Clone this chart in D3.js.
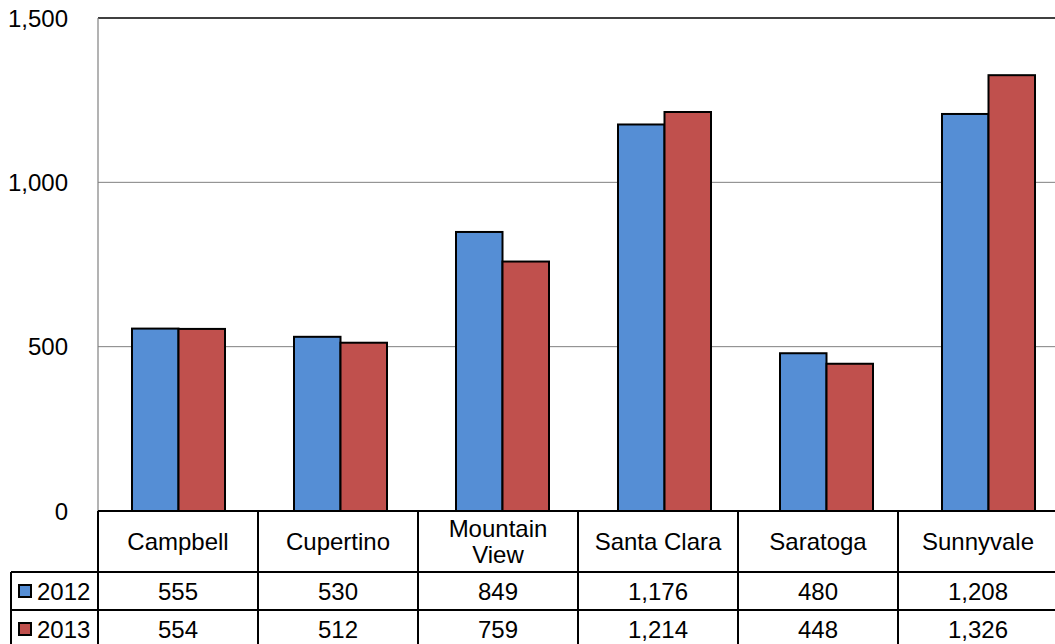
<!DOCTYPE html>
<html><head><meta charset="utf-8">
<script src="https://cdn.jsdelivr.net/npm/d3@7"></script>
<style>body{margin:0;background:#fff;overflow:hidden}svg{display:block}text{font-family:"Liberation Sans",Arial,sans-serif;}</style>
</head><body>
<svg id="c" width="1055" height="644"></svg>
<script>
const categories = ["Campbell","Cupertino","Mountain View","Santa Clara","Saratoga","Sunnyvale"];
const seriesNames = ["2012","2013"];
const values2012 = [555,530,849,1176,480,1208];
const values2013 = [554,512,759,1214,448,1326];
const yTicks = [0,500,1000,1500];
const colors = ["#558ED5","#C0504D"];

(function(){
const svg = d3.select("#c");
const pL = 98, pR = 1058, pT = 18, pB = 511;
const rowH = [511, 572, 610, 648];

// bar groups: step 162, offset 34, group width 93
const xb = d3.scaleBand().domain(categories).range([pL, pL + 971]).paddingInner(69/162).paddingOuter(34/162);
const xCat = d3.scaleBand().domain(categories).range([pL,pR]).padding(0);
const x1 = d3.scaleBand().domain(seriesNames).range([0,xb.bandwidth()]);
const y = d3.scaleLinear().domain([0,1500]).range([pB,pT]);

// gridlines
svg.append("g").selectAll("line").data(yTicks.filter(t=>t>0 && t<1500)).join("line")
  .attr("x1",pL).attr("x2",pR).attr("y1",d=>y(d)).attr("y2",d=>y(d))
  .attr("stroke","#808080").attr("stroke-width",1);
// plot border
svg.append("line").attr("x1",pL).attr("x2",pR).attr("y1",y(1500)).attr("y2",y(1500)).attr("stroke","#000").attr("stroke-width",1.5);
svg.append("line").attr("x1",pL).attr("x2",pL).attr("y1",pT).attr("y2",pB).attr("stroke","#808080").attr("stroke-width",1.2);

// y axis labels
const fmt = d3.format(",");
svg.append("g").selectAll("text").data(yTicks).join("text")
  .attr("x",68).attr("y",d=>y(d)).attr("dy","0.36em").attr("text-anchor","end")
  .attr("font-size",24).attr("fill","#000").text(d=>fmt(d));

// bars
const series = [values2012, values2013];
const g = svg.append("g");
series.forEach((vals,si)=>{
  g.append("g").selectAll("rect").data(categories).join("rect")
    .attr("x",(d)=>xb(d)+x1(seriesNames[si]))
    .attr("width",x1.bandwidth())
    .attr("y",(d,i)=>y(vals[i]))
    .attr("height",(d,i)=>y(0)-y(vals[i]))
    .attr("fill",colors[si]).attr("stroke","#000").attr("stroke-width",2);
});

// table
const t = svg.append("g");
t.append("line").attr("x1",pL).attr("x2",pR).attr("y1",rowH[0]).attr("y2",rowH[0]).attr("stroke","#000").attr("stroke-width",2);
[rowH[1],rowH[2]].forEach(yy=>{
  t.append("line").attr("x1",11).attr("x2",pR).attr("y1",yy).attr("y2",yy).attr("stroke","#000").attr("stroke-width",2);
});
t.append("line").attr("x1",11).attr("x2",11).attr("y1",rowH[1]).attr("y2",rowH[3]).attr("stroke","#000").attr("stroke-width",2);
const bounds = categories.map(c=>xCat(c)).concat([pR]);
t.selectAll("line.v").data(bounds).join("line").attr("class","v")
  .attr("x1",d=>d).attr("x2",d=>d).attr("y1",rowH[0]).attr("y2",rowH[3]).attr("stroke","#000").attr("stroke-width",2);

// category labels
categories.forEach(c=>{
  const cx = xCat(c)+xCat.bandwidth()/2;
  const words = c==="Mountain View" ? ["Mountain","View"] : [c];
  const txt = t.append("text").attr("x",cx).attr("text-anchor","middle").attr("font-size",24).attr("fill","#000");
  if(words.length===1){
    txt.attr("y",(rowH[0]+rowH[1])/2).attr("dy","0.36em").text(c);
  } else {
    words.forEach((w,i)=>txt.append("tspan").attr("x",cx).attr("y",(rowH[0]+rowH[1])/2 + (i===0?-13:13)).attr("dy","0.36em").text(w));
  }
});

// data rows
series.forEach((vals,si)=>{
  const yc = (rowH[si+1]+rowH[si+2])/2;
  const yy = si===0 ? yc : 629;
  t.append("rect").attr("x",19).attr("y",yy-6).attr("width",12).attr("height",12)
    .attr("fill",colors[si]).attr("stroke","#000").attr("stroke-width",2);
  t.append("text").attr("x",37).attr("y",yy).attr("dy","0.36em").attr("font-size",24).attr("fill","#000").text(seriesNames[si]);
  categories.forEach((c,i)=>{
    t.append("text").attr("x",xCat(c)+xCat.bandwidth()/2).attr("y",yy).attr("dy","0.36em")
      .attr("text-anchor","middle").attr("font-size",24).attr("fill","#000").text(fmt(vals[i]));
  });
});
})();
</script>
</body></html>
